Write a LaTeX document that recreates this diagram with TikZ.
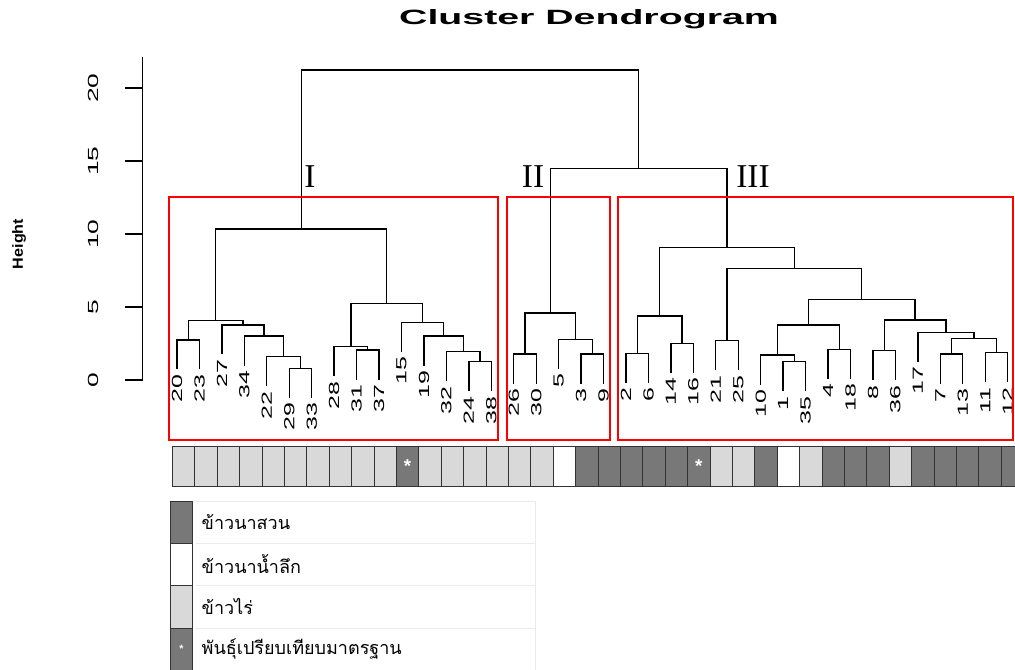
\documentclass[tikz,border=0pt]{standalone}
\usepackage{fontspec}
\setmainfont{Liberation Sans}
\newfontfamily\romanfont{Liberation Serif}
\newfontfamily\thaifont[Script=Thai]{Loma}
\definecolor{paddy}{HTML}{787878}
\definecolor{upland}{HTML}{D9D9D9}
\definecolor{deepwater}{HTML}{FFFFFF}
\newcommand{\stretchx}[2][1.7]{\scalebox{#1}[1]{#2}}

\begin{document}
\begin{tikzpicture}[x=0.75pt,y=-0.75pt,
    tree/.style={line width=1pt,black},
    leaflabel/.style={rotate=90,anchor=east,inner sep=0pt,font=\fontsize{11}{12}\selectfont},
    ticklabel/.style={rotate=90,inner sep=0pt,font=\fontsize{11}{12}\selectfont},
    clusterbox/.style={draw=red,line width=1pt},
    romanlabel/.style={font=\romanfont\fontsize{25}{25}\selectfont,inner sep=0pt},
    cell/.style={draw=black!80,line width=0.6pt,minimum width=16.8pt,minimum height=29.5pt,inner sep=0pt},
    keybox/.style={draw=black!80,line width=0.6pt,minimum width=16.2pt,minimum height=31.7pt,inner sep=0pt},
    keytext/.style={anchor=west,font=\thaifont\fontsize{13.5}{15}\selectfont},
    keyrule/.style={draw=black!8,line width=0.6pt},
    starmark/.style={text=white,inner sep=0pt,font=\bfseries\fontsize{14}{14}\selectfont}]
  \useasboundingbox (0,0) rectangle (1015,670);

  \node[font=\bfseries\fontsize{15.5}{16}\selectfont] (title) at (589,19) {\stretchx[1.9]{Cluster Dendrogram}};
  \node[rotate=90,font=\bfseries\fontsize{11}{12}\selectfont] (ylab) at (19,244) {\stretchx[1.1]{Height}};

  % dendrogram in leaf / height units
  \begin{scope}[xshift=132.75pt,yshift=-285pt,x=16.8375pt,y=10.95pt]
    \draw[tree] (-1.53,0) coordinate (ax0) -- (-1.53,22.14) coordinate (ax1);
    \foreach \h in {0,5,...,20} {
      \draw[tree] (-1.53,\h) -- (-2.32,\h);
      \node[ticklabel] (tick\h) at (-3.74,\h) {\stretchx[1.8]{\h}};
    }

    % leaves: position / sample / height of parent
    \foreach \i/\l/\h in {0/20/2.74, 1/23/2.74, 2/27/3.77, 3/34/3.01, 4/22/1.60,
        5/29/0.80, 6/33/0.80, 7/28/2.28, 8/31/2.05, 9/37/2.05, 10/15/3.95,
        11/19/3.01, 12/32/1.94, 13/24/1.25, 14/38/1.25, 15/26/1.78, 16/30/1.78,
        17/5/2.79, 18/3/1.78, 19/9/1.78, 20/2/1.83, 21/6/1.83, 22/14/2.51,
        23/16/2.51, 24/21/2.69, 25/25/2.69, 26/10/1.71, 27/1/1.25, 28/35/1.25,
        29/4/2.10, 30/18/2.10, 31/8/2.01, 32/36/2.01, 33/17/3.27, 34/7/1.78,
        35/13/1.78, 36/11/1.87, 37/12/1.87} {
      \coordinate (s\l) at (\i,\h-2.02);
      \node[leaflabel] (t\l) at (\i,\h-2.36) {\stretchx{\l}};
    }

    % merges
    \coordinate (m1) at (0.5,2.74);
    \coordinate (m2) at (5.5,0.80);
    \coordinate (m3) at (4.75,1.60);
    \coordinate (m4) at (3.875,3.01);
    \coordinate (m5) at (2.9375,3.77);
    \coordinate (m6) at (1.71875,4.06);
    \coordinate (m7) at (8.5,2.05);
    \coordinate (m8) at (7.75,2.28);
    \coordinate (m9) at (13.5,1.25);
    \coordinate (m10) at (12.75,1.94);
    \coordinate (m11) at (11.875,3.01);
    \coordinate (m12) at (10.9375,3.95);
    \coordinate (m13) at (9.34375,5.25);
    \coordinate (cI) at (5.53125,10.34);
    \coordinate (m14) at (15.5,1.78);
    \coordinate (m15) at (18.5,1.78);
    \coordinate (m16) at (17.75,2.79);
    \coordinate (cII) at (16.625,4.59);
    \coordinate (m17) at (20.5,1.83);
    \coordinate (m18) at (22.5,2.51);
    \coordinate (m19) at (21.5,4.38);
    \coordinate (m20) at (24.5,2.69);
    \coordinate (m21) at (27.5,1.25);
    \coordinate (m22) at (26.75,1.71);
    \coordinate (m23) at (29.5,2.10);
    \coordinate (m24) at (28.125,3.77);
    \coordinate (m25) at (31.5,2.01);
    \coordinate (m26) at (34.5,1.78);
    \coordinate (m27) at (36.5,1.87);
    \coordinate (m28) at (35.5,2.86);
    \coordinate (m29) at (34.25,3.27);
    \coordinate (m30) at (32.875,4.11);
    \coordinate (m31) at (30.5,5.53);
    \coordinate (m32) at (27.5,7.64);
    \coordinate (cIII) at (24.5,9.09);
    \coordinate (m33) at (20.5625,14.5);
    \coordinate (root) at (13.046875,21.23);

    \foreach \p/\c in {m1/s20, m1/s23, m2/s29, m2/s33, m3/s22, m3/m2, m4/s34, m4/m3,
        m5/s27, m5/m4, m6/m1, m6/m5, m7/s31, m7/s37, m8/s28, m8/m7, m9/s24, m9/s38,
        m10/s32, m10/m9, m11/s19, m11/m10, m12/s15, m12/m11, m13/m8, m13/m12,
        cI/m6, cI/m13,
        m14/s26, m14/s30, m15/s3, m15/s9, m16/s5, m16/m15, cII/m14, cII/m16,
        m17/s2, m17/s6, m18/s14, m18/s16, m19/m17, m19/m18, m20/s21, m20/s25,
        m21/s1, m21/s35, m22/s10, m22/m21, m23/s4, m23/s18, m24/m22, m24/m23,
        m25/s8, m25/s36, m26/s7, m26/s13, m27/s11, m27/s12, m28/m26, m28/m27,
        m29/s17, m29/m28, m30/m25, m30/m29, m31/m24, m31/m30, m32/m20, m32/m31,
        cIII/m19, cIII/m32,
        m33/cII, m33/cIII, root/cI, root/m33}
      \draw[tree] (\p) -| (\c);
  \end{scope}

  \draw[clusterbox] (169,197) rectangle (498,440);
  \draw[clusterbox] (507,197) rectangle (610,440);
  \draw[clusterbox] (618,197) rectangle (1013,440);

  \node[romanlabel] (lI) at (310,177) {I};
  \node[romanlabel] (lII) at (533,177) {II};
  \node[romanlabel] (lIII) at (753,177) {III};

  % colour bar
  \foreach \c [count=\i from 0] in {upland,upland,upland,upland,upland,upland,upland,upland,
      upland,upland,paddy,upland,upland,upland,upland,upland,upland,deepwater,paddy,paddy,
      paddy,paddy,paddy,paddy,upland,upland,paddy,deepwater,upland,paddy,paddy,paddy,
      upland,paddy,paddy,paddy,paddy,paddy}
    \node[cell,fill=\c] (c\i) at ({183.5+22.4*\i},466.5) {};
  \node[starmark] (star10) at (c10) {*};
  \node[starmark] (star23) at (c23) {*};

  % key
  \foreach \y in {501,543.5,585.8,628.1}
    \draw[keyrule] (196,\y) -- (535,\y);
  \draw[keyrule] (535,501) -- (535,670);
  \foreach \c/\t [count=\k from 0] in {paddy/ข้าวนาสวน, deepwater/ข้าวนาน้ำลึก,
      upland/ข้าวไร่, paddy/พันธุ์เปรียบเทียบมาตรฐาน} {
    \node[keybox,fill=\c] (key\k) at (181.5,{522.2+42.3*\k}) {};
    \node[keytext] (keytext\k) at (197,{522.2+42.3*\k}) {\t};
  }
  \node[starmark,font=\bfseries\fontsize{8}{8}\selectfont] (keystar) at (key3) {*};
\end{tikzpicture}
\end{document}
